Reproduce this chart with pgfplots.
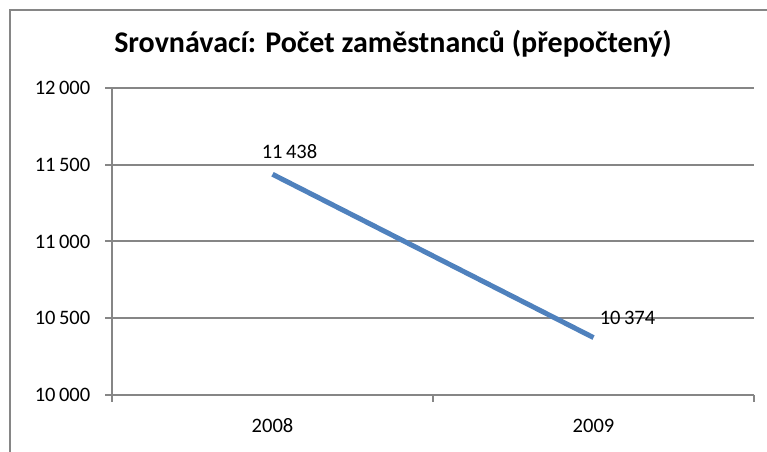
\documentclass[border=0pt]{standalone}
\usepackage{pgfplots}
\pgfplotsset{compat=1.18}
\usepackage{fontspec}
\setmainfont{Carlito}
\definecolor{gridgray}{RGB}{134,134,134}
\definecolor{lineblue}{RGB}{79,129,189}
\begin{document}
\begin{tikzpicture}
\useasboundingbox (0,0) rectangle (575.25pt,339pt);
\begin{axis}[
  at={(84pt,42.75pt)}, anchor=south west,
  scale only axis, width=481.5pt, height=230.25pt,
  xmin=-0.5, xmax=1.5, ymin=10000, ymax=12000,
  axis x line=bottom, axis y line=left,
  axis line style={-, gridgray, line width=1.5pt},
  tick align=outside,
  tick style={gridgray, line width=1.5pt},
  xtick={0,1}, xticklabels={2008,2009},
  x tick style={draw=none},
  extra x ticks={-0.5,0.5,1.5}, extra x tick labels={},
  extra x tick style={x tick style={draw=gridgray, line width=1.5pt}, major tick length=5.25pt},
  ytick={10000,10500,11000,11500,12000},
  scaled y ticks=false,
  major tick length=5.25pt,
  ymajorgrids=true,
  grid style={gridgray, line width=1.5pt},
  /pgf/number format/assume math mode=true,
  /pgf/number format/1000 sep={\,},
  ticklabel style={font=\fontsize{15.4}{18}\selectfont},
  yticklabel style={xshift=-7.5pt},
  xticklabel style={yshift=-9pt},
  title={Srovnávací: Počet zaměstnanců (přepočtený)},
  title style={at={(0.5,1)}, anchor=base, yshift=20.25pt, xshift=-30pt, font=\bfseries\fontsize{22.5}{27}\selectfont},
  clip=false,
]
\addplot[lineblue, line width=3.75pt] coordinates {(0,11438) (1,10374)};
\addplot[draw=none, nodes near coords, point meta=y,
  nodes near coords style={anchor=center, xshift=12.75pt, yshift=17.25pt, font=\fontsize{15.4}{18}\selectfont, text=black}]
  coordinates {(0,11438)};
\addplot[draw=none, nodes near coords, point meta=y,
  nodes near coords style={anchor=center, xshift=25.5pt, yshift=15pt, font=\fontsize{15.4}{18}\selectfont, text=black}]
  coordinates {(1,10374)};
\end{axis}
\draw[gridgray, line width=1.8pt] (7.5pt,-5pt) -- (7.5pt,331.5pt) -- (580pt,331.5pt);
\end{tikzpicture}
\end{document}
